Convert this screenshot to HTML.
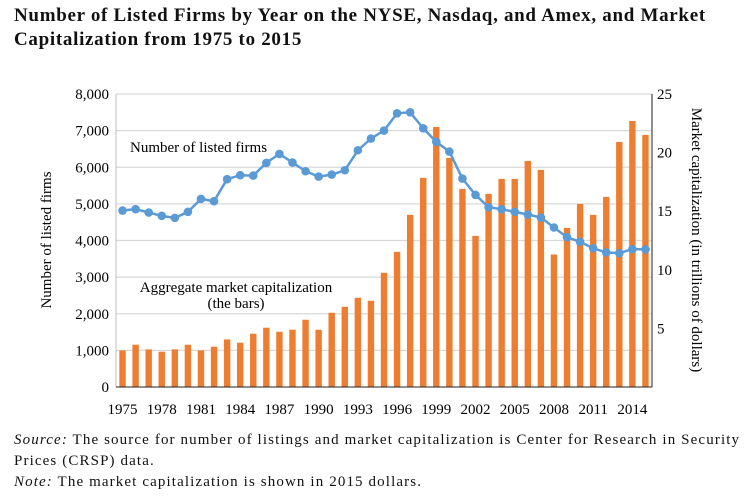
<!DOCTYPE html>
<html><head><meta charset="utf-8"><style>
body{margin:0;background:#fff;width:748px;height:504px;overflow:hidden;font-family:"Liberation Serif",serif;}
.t{position:absolute;left:14px;top:4px;font-weight:bold;font-size:19px;letter-spacing:0.7px;line-height:24px;color:#111;white-space:nowrap;}
.f{position:absolute;left:14px;font-size:15px;letter-spacing:1.12px;color:#111;white-space:nowrap;}
</style></head><body>
<div class="t">Number of Listed Firms by Year on the NYSE, Nasdaq, and Amex, and Market<br>Capitalization from 1975 to 2015</div>
<svg id="c" width="748" height="504" style="position:absolute;left:0;top:0" font-family="Liberation Serif, serif" font-size="15"></svg>
<div class="f" style="top:432px"><i>Source:</i> The source for number of listings and market capitalization is Center for Research in Security</div>
<div class="f" style="top:453px">Prices (CRSP) data.</div>
<div class="f" style="top:474px"><i>Note:</i> The market capitalization is shown in 2015 dollars.</div>
<script>
var bars=[1000,1155,1027,964,1027,1155,1000,1100,1300,1209,1455,1618,1509,1564,1836,1564,2027,2190,2436,2354,3118,3690,4700,5709,7100,6255,5409,4127,5273,5682,5682,6173,5927,3618,4345,5000,4700,5191,6691,7264,6882];
var line=[4818,4855,4764,4673,4618,4782,5136,5073,5673,5782,5773,6118,6364,6127,5891,5745,5800,5918,6464,6782,7000,7473,7500,7064,6691,6427,5691,5245,4909,4855,4782,4709,4627,4355,4091,3964,3791,3673,3655,3764,3755];
var L=116,R=652,B=387,T=94,w=(R-L)/41,s='';
function y(v){return B-(B-T)*v/8000;}
for(var k=0;k<=8;k++){var yy=y(k*1000);
 if(k>0)s+='<line x1="'+L+'" x2="'+R+'" y1="'+yy+'" y2="'+yy+'" stroke="#d9d9d9" stroke-width="1.2"/>';
 s+='<text x="109" y="'+(yy+5)+'" text-anchor="end">'+(k==0?'0':k+',000')+'</text>';}
for(var k=1;k<=5;k++){var yy=B-(B-T)*k*5/25;s+='<text x="657" y="'+(yy+5)+'">'+(k*5)+'</text>';}
for(var i=0;i<41;i++){var cx=L+w*(i+.5);s+='<rect x="'+(cx-3.2)+'" y="'+y(bars[i])+'" width="6.4" height="'+(B-y(bars[i]))+'" fill="#ed7d31"/>';
 if(i%3==0)s+='<text x="'+cx+'" y="414" text-anchor="middle">'+(1975+i)+'</text>';}
var p='';for(var i=0;i<41;i++)p+=(i?'L':'M')+(L+w*(i+.5)).toFixed(1)+','+y(line[i]).toFixed(1);
s+='<path d="'+p+'" fill="none" stroke="#5b9bd5" stroke-width="2.5"/>';
for(var i=0;i<41;i++)s+='<circle cx="'+(L+w*(i+.5))+'" cy="'+y(line[i])+'" r="4.3" fill="#5b9bd5"/>';
s+='<line x1="'+L+'" x2="'+L+'" y1="'+T+'" y2="'+B+'" stroke="#bfbfbf"/>';
s+='<line x1="'+R+'" x2="'+R+'" y1="'+T+'" y2="'+B+'" stroke="#222"/>';
s+='<line x1="'+L+'" x2="'+R+'" y1="'+B+'" y2="'+B+'" stroke="#222"/>';
s+='<text x="130" y="152">Number of listed firms</text>';
s+='<text x="236" y="292" text-anchor="middle">Aggregate market capitalization</text>';
s+='<text x="236" y="308" text-anchor="middle">(the bars)</text>';
s+='<text transform="translate(51,240) rotate(-90)" text-anchor="middle" font-size="15">Number of listed firms</text>';
s+='<text transform="translate(692,240) rotate(90)" text-anchor="middle" font-size="15">Market capitalization (in trillions of dollars)</text>';
document.getElementById('c').innerHTML=s;
</script>
</body></html>
